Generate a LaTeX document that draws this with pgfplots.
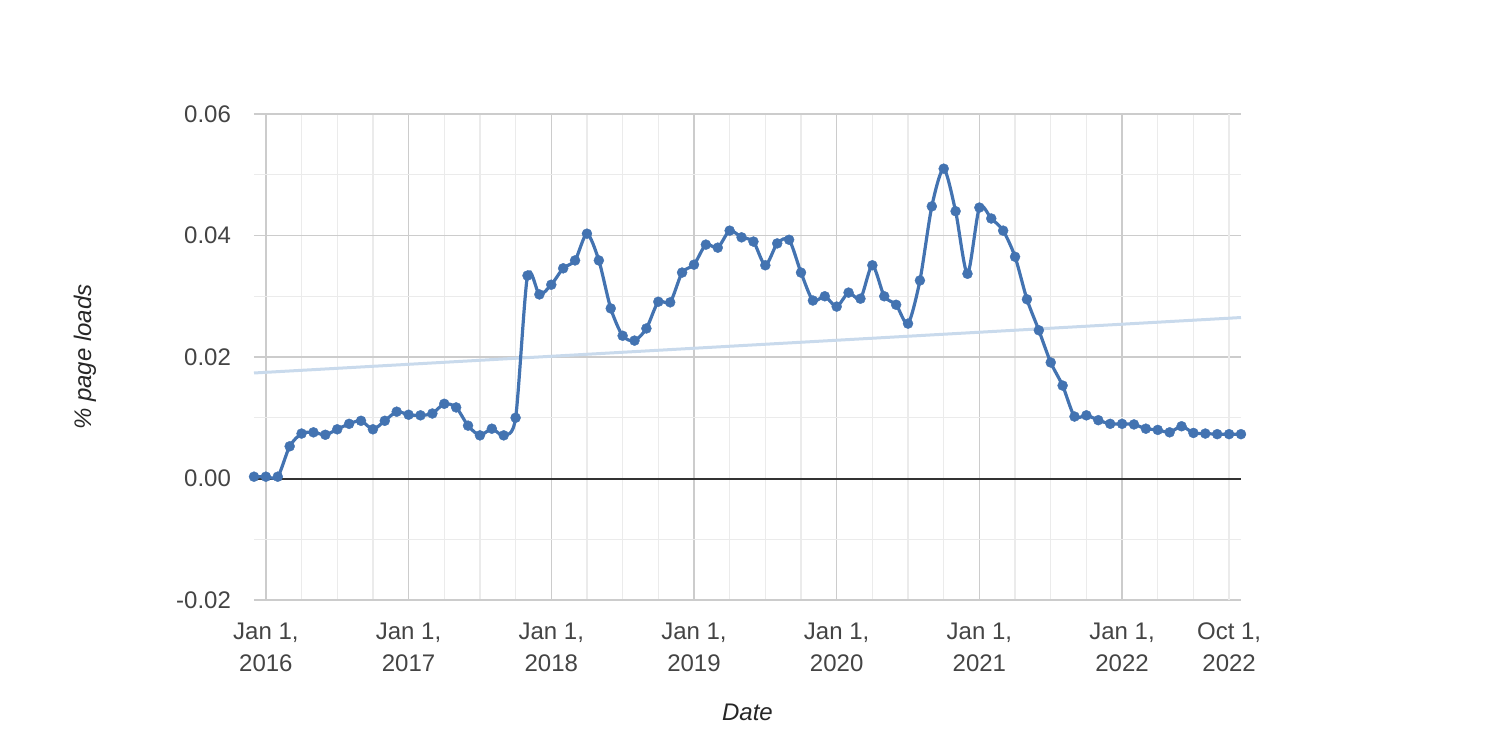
\documentclass[border=0pt]{standalone}
\usepackage{pgfplots}
\pgfplotsset{compat=1.18}
\usepackage{fontspec}
\setmainfont{Liberation Sans}
\definecolor{lineblue}{HTML}{4373B1}
\definecolor{trendblue}{HTML}{C9DAEC}
\definecolor{majgrid}{HTML}{CCCCCC}
\definecolor{mingrid}{HTML}{EBEBEB}
\definecolor{ticktext}{HTML}{444444}
\definecolor{zeroline}{HTML}{333333}
\begin{document}
\begin{tikzpicture}
\path[use as bounding box] (0,0) rectangle (748pt,373pt);
\begin{axis}[
  at={(127pt,73pt)}, anchor=south west,
  scale only axis, width=493.5pt, height=243pt,
  xmin=-1, xmax=82, ymin=-0.02, ymax=0.06,
  axis line style={draw=none},
  clip=false,
  scaled y ticks=false,
  xtick={0,12,24,36,48,60,72},
  xticklabels={{Jan 1,\\2016},{Jan 1,\\2017},{Jan 1,\\2018},{Jan 1,\\2019},{Jan 1,\\2020},{Jan 1,\\2021},{Jan 1,\\2022}},
  extra x ticks={81},
  extra x tick labels={{Oct 1{,}\\2022}},
  extra x tick style={major grid style={mingrid, line width=0.7pt}},
  minor xtick={0,3,...,81},
  ytick={-0.02,0,0.02,0.04,0.06},
  yticklabels={-0.02,0.00,0.02,0.04,0.06},
  minor ytick={-0.01,0.01,0.03,0.05},
  xmajorgrids, ymajorgrids, xminorgrids, yminorgrids,
  major grid style={majgrid, line width=0.75pt},
  minor grid style={mingrid, line width=0.7pt},
  major tick length=0pt, minor tick length=0pt,
  tick label style={font=\fontsize{12}{16}\selectfont, text=ticktext},
  xticklabel style={align=center, anchor=north, yshift=-8pt},
  yticklabel style={anchor=east, xshift=-8pt},
  xlabel={\itshape Date},
  ylabel={\itshape \% page loads},
  label style={font=\fontsize{12}{14}\selectfont, text=black!85},
  xlabel style={at={(axis description cs:0.5,-0.2305)}, anchor=center},
  ylabel style={at={(axis description cs:-0.1712,0.5)}, anchor=center},
]
\addplot[trendblue, line width=1.5pt, forget plot] coordinates {(-1,0.01737) (82,0.0265)};
\addplot[zeroline, line width=1pt, forget plot] coordinates {(-1,0) (82,0)};
\addplot[lineblue, line width=1.6pt, smooth, tension=0.45,
  mark=*, mark size=2.5pt, mark options={fill=lineblue, draw=lineblue, line width=0.2pt, solid}]
  table {
-1 0.0003
0 0.0003
1 0.0003
2 0.0053
3 0.0074
4 0.0076
5 0.0072
6 0.0081
7 0.0090
8 0.0095
9 0.0081
10 0.0095
11 0.0110
12 0.0105
13 0.0104
14 0.0107
15 0.0123
16 0.0117
17 0.0087
18 0.0071
19 0.0082
20 0.0071
21 0.0100
22 0.0334
23 0.0303
24 0.0319
25 0.0346
26 0.0359
27 0.0403
28 0.0359
29 0.0280
30 0.0235
31 0.0227
32 0.0247
33 0.0291
34 0.0290
35 0.0339
36 0.0352
37 0.0385
38 0.0380
39 0.0408
40 0.0397
41 0.0390
42 0.0351
43 0.0387
44 0.0393
45 0.0339
46 0.0293
47 0.0300
48 0.0283
49 0.0306
50 0.0296
51 0.0351
52 0.0300
53 0.0286
54 0.0255
55 0.0326
56 0.0448
57 0.0510
58 0.0440
59 0.0337
60 0.0446
61 0.0428
62 0.0408
63 0.0365
64 0.0295
65 0.0244
66 0.0191
67 0.0153
68 0.0102
69 0.0104
70 0.0096
71 0.0090
72 0.0090
73 0.0089
74 0.0082
75 0.0080
76 0.0076
77 0.0086
78 0.0075
79 0.0074
80 0.0073
81 0.0073
82 0.0073
};
\end{axis}
\end{tikzpicture}
\end{document}
